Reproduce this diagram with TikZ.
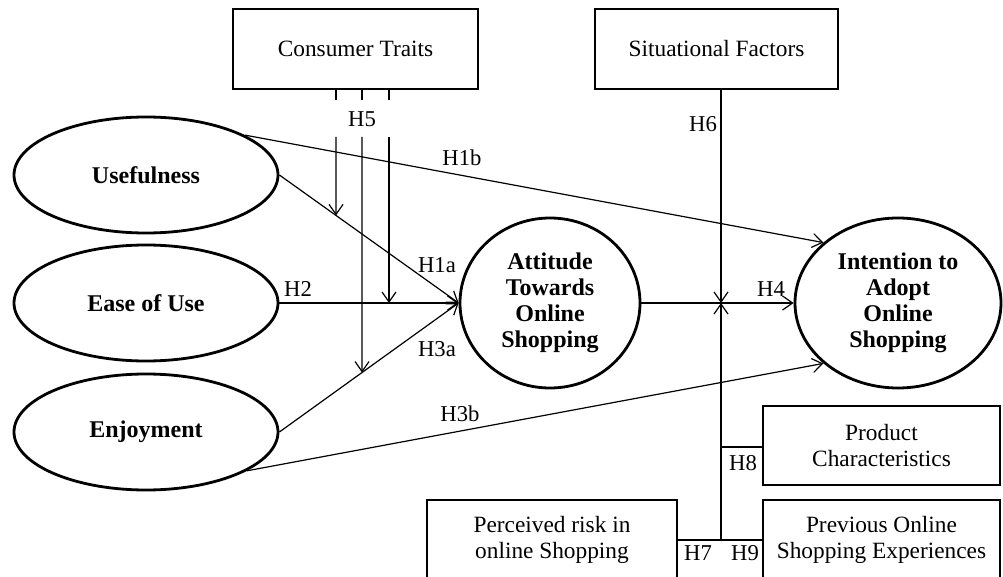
\documentclass[tikz,border=0pt]{standalone}
\usepackage{fontspec}
\setmainfont{Liberation Serif}
\usetikzlibrary{shapes.geometric,arrows.meta}

\tikzset{every picture/.style={line width=0.9pt}}
\tikzset{
  factor/.style={draw, line width=2.1pt, inner sep=0pt, align=center, font=\fontsize{17.5}{19.5}\selectfont},
  construct/.style={draw, ellipse, line width=2.1pt, inner sep=0pt, align=center, font=\fontsize{18}{19.5}\selectfont\bfseries},
  hyp/.style={-{Straight Barb[length=7.5pt,width=10.5pt]}},
  hlabel/.style={inner sep=1pt, font=\fontsize{17}{18}\selectfont}
}

\begin{document}
\begin{tikzpicture}[x=0.75pt,y=0.75pt,yscale=-1,xscale=1]
\useasboundingbox (0,0) rectangle (1003,577);

% outer factors
\node[factor, minimum width=183.75pt, minimum height=60pt] (ct) at (355.5,49) {Consumer Traits};
\node[factor, minimum width=182.25pt, minimum height=60pt] (sf) at (716.5,49) {Situational Factors};
\node[factor, minimum width=177.75pt, minimum height=59.25pt] (pc) at (881.5,445.5) {Product\\Characteristics};
\node[factor, minimum width=177.75pt, minimum height=60pt] (prev) at (881.5,540) {Previous Online\\Shopping Experiences};
\node[factor, minimum width=187.5pt, minimum height=60pt] (risk) at (552,540) {Perceived risk in\\online Shopping};

% constructs
\node[construct, minimum width=198pt, minimum height=87pt] (use) at (146,175) {Usefulness};
\node[construct, minimum width=198pt, minimum height=87pt] (ease) at (146,303) {Ease of Use};
\node[construct, minimum width=198pt, minimum height=87pt] (enj) at (146,432) {Enjoyment};
\node[construct, minimum width=135pt, minimum height=127.5pt] (att) at (550,303) {Attitude\\Towards\\Online\\Shopping};
\node[construct, minimum width=154.5pt, minimum height=127.5pt] (int) at (898,303) {Intention to\\Adopt\\Online\\Shopping};

% main paths
\draw[hyp] (use.east) -- (att.west);
\draw[hyp] (ease.east) -- (att.west);
\draw[hyp] (enj.east) -- (att.west);
\draw[hyp] (use.22) -- (int.141);
\draw[hyp] (enj.339) -- (int.219);
\draw[hyp] (att.east) -- (int.west);

% H5 moderation
\coordinate (t1) at (336,137);
\coordinate (t2) at (362,137);
\coordinate (t3) at (389,137);
\draw (t1 |- ct.south) -- ++(0,10);
\draw (t2 |- ct.south) -- ++(0,10);
\draw (t3 |- ct.south) -- ++(0,10);
\coordinate (e1) at (intersection of use.east--att.west and t1--{336,400});
\coordinate (e2) at (intersection of enj.east--att.west and t2--{362,500});
\coordinate (e3) at (t3 |- att.west);
\draw[hyp] (t1) -- (e1);
\draw[hyp] (t2) -- (e2);
\draw[hyp] (t3) -- (e3);

% H6 to H9 moderation
\coordinate (mod) at (721,303);
\coordinate (jn) at (721,540);
\coordinate (h8) at (721,447);
\draw[hyp] (sf.south -| mod) -- (mod);
\draw[hyp] (jn) -- (mod);
\draw (risk.east |- jn) -- (jn) -- (prev.west |- jn);
\draw (h8) -- (h8 -| pc.west);

% labels
\node[hlabel] (l1a) at (437,265) {H1a};
\node[hlabel] (l1b) at (462,158) {H1b};
\node[hlabel] (l2) at (298,289) {H2};
\node[hlabel] (l3a) at (437,349) {H3a};
\node[hlabel] (l3b) at (460,414) {H3b};
\node[hlabel] (l4) at (771,289) {H4};
\node[hlabel] (l5) at (362,119) {H5};
\node[hlabel] (l6) at (703,124) {H6};
\node[hlabel] (l7) at (698,553) {H7};
\node[hlabel] (l8) at (743,463) {H8};
\node[hlabel] (l9) at (745,553) {H9};

\end{tikzpicture}
\end{document}
